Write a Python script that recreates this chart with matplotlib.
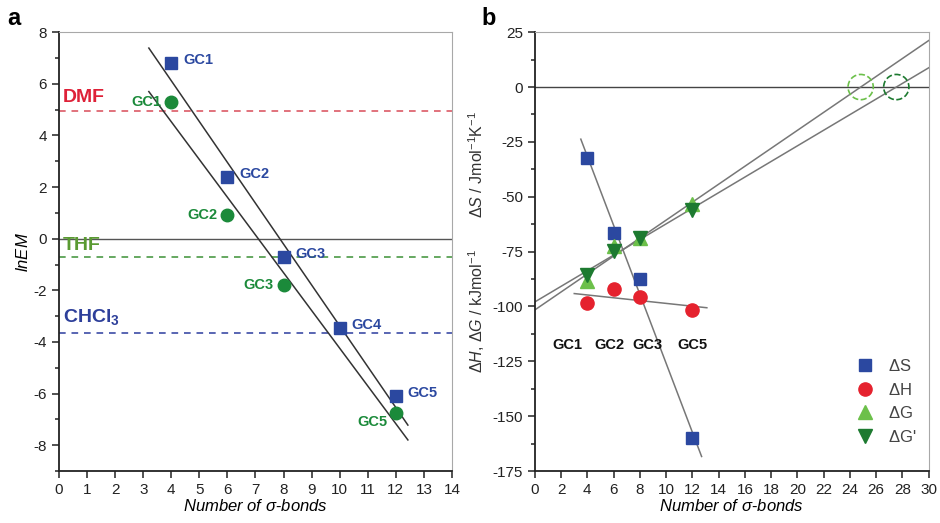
import numpy as np
import matplotlib
matplotlib.use("Agg")
import matplotlib.pyplot as plt
from matplotlib.ticker import MultipleLocator

plt.rcParams['font.family'] = ['Liberation Sans', 'DejaVu Sans']
plt.rcParams['mathtext.fontset'] = 'custom'
plt.rcParams['mathtext.it'] = 'Liberation Sans:italic'
plt.rcParams['mathtext.rm'] = 'Liberation Sans'
plt.rcParams['mathtext.bf'] = 'Liberation Sans:bold'
plt.rcParams['axes.unicode_minus'] = False

# panel a: ln EM vs number of sigma bonds
bonds_sq = [4, 6, 8, 10, 12]
lnem_sq = [6.8, 2.4, -0.7, -3.45, -6.1]
labels_sq = ['GC1', 'GC2', 'GC3', 'GC4', 'GC5']
bonds_ci = [4, 6, 8, 12]
lnem_ci = [5.3, 0.9, -1.8, -6.75]
labels_ci = ['GC1', 'GC2', 'GC3', 'GC5']
solvents = ['DMF', 'THF', r'$\mathbf{CHCl_3}$']
solvent_lnem = [4.95, -0.72, -3.66]

# panel b: thermodynamic parameters
bonds_b = [4, 6, 8, 12]
dS = [-32.5, -66.5, -87.5, -160]
dH = [-98.6, -92, -95.7, -101.7]
dG = [-88.5, -72.5, -69, -53.5]
dG2 = [-85.5, -74.5, -69, -56]
labels_b = ['GC1', 'GC2', 'GC3', 'GC5']
label_b_x = [2.5, 5.7, 8.6, 12.0]

blue = '#2b48a0'
green = '#1b8a3a'
red = '#e5222e'
lgreen = '#6cc04a'
dgreen = '#1d7a30'
solv_colors = ['#de2138', '#5a9a32', '#2d3f9a']
solv_line = ['#dc5a66', '#4c9a46', '#3c4ca6']

fig = plt.figure(figsize=(9.4, 5.23), dpi=100)
ax1 = fig.add_axes([0.0628, 0.0994, 0.418, 0.839])
ax2 = fig.add_axes([0.569, 0.0994, 0.419, 0.839])


def style(ax):
    for s in ['top', 'right']:
        ax.spines[s].set_color('#a8a8a8')
    for s in ['left', 'bottom']:
        ax.spines[s].set_linewidth(1.3)
        ax.spines[s].set_color('#222222')
    ax.tick_params(which='both', direction='out', top=False, right=False,
                   labelsize=11, colors='#222222', width=1.1)
    ax.tick_params(which='major', length=5)
    ax.tick_params(which='minor', length=3)


# ---- panel a
style(ax1)
ax1.set_xlim(0, 14)
ax1.set_ylim(-9, 8)
ax1.xaxis.set_major_locator(MultipleLocator(1))
ax1.yaxis.set_major_locator(MultipleLocator(2))
ax1.yaxis.set_minor_locator(MultipleLocator(1))
ax1.axhline(0, color='#555555', lw=1)

for y, c in zip(solvent_lnem, solv_line):
    ax1.axhline(y, color=c, lw=1.2, ls=(0, (4, 3.5)))
ax1.text(0.15, solvent_lnem[0] + 0.2, solvents[0], color=solv_colors[0],
         fontsize=14, fontweight='bold', va='bottom')
ax1.text(0.15, solvent_lnem[1] + 0.12, solvents[1], color=solv_colors[1],
         fontsize=14, fontweight='bold', va='bottom')
ax1.text(0.15, solvent_lnem[2] + 0.25, solvents[2], color=solv_colors[2],
         fontsize=14, fontweight='bold', va='bottom')

xf = np.array([3.2, 12.43])
p = np.polyfit(bonds_sq, lnem_sq, 1)
ax1.plot(xf, np.polyval(p, xf), color='#333333', lw=1.1)
p = np.polyfit(bonds_ci, lnem_ci, 1)
ax1.plot(xf, np.polyval(p, xf), color='#333333', lw=1.1)

ax1.plot(bonds_sq, lnem_sq, 's', color=blue, ms=8.5, zorder=5)
ax1.plot(bonds_ci, lnem_ci, 'o', color=green, ms=9, zorder=5)
for x, y, t in zip(bonds_sq, lnem_sq, labels_sq):
    ax1.text(x + 0.42, y + 0.12, t, color=blue, fontsize=10.5,
             fontweight='bold', va='center', ha='left')
for x, y, t in zip(bonds_ci[:3], lnem_ci[:3], labels_ci[:3]):
    ax1.text(x - 0.35, y, t, color=green, fontsize=10.5,
             fontweight='bold', va='center', ha='right')
ax1.text(bonds_ci[3] - 0.3, lnem_ci[3] - 0.35, labels_ci[3], color=green,
         fontsize=10.5, fontweight='bold', va='center', ha='right')

ax1.set_xlabel(r'$Number\ of\ \sigma$-$bonds$', fontsize=12, labelpad=1)
ax1.set_ylabel(r'$lnEM$', fontsize=12, labelpad=2)
fig.text(0.008, 0.965, 'a', fontsize=17, fontweight='bold', va='center')

# ---- panel b
style(ax2)
ax2.set_xlim(0, 30)
ax2.set_ylim(-175, 25)
ax2.xaxis.set_major_locator(MultipleLocator(2))
ax2.yaxis.set_major_locator(MultipleLocator(25))
ax2.yaxis.set_minor_locator(MultipleLocator(12.5))
ax2.axhline(0, color='#444444', lw=1)

p = np.polyfit(bonds_b, dS, 1)
xs = np.array([3.5, 12.7])
ax2.plot(xs, np.polyval(p, xs), color='#777777', lw=1.1)
p = np.polyfit(bonds_b, dH, 1)
xs = np.array([3.0, 13.1])
ax2.plot(xs, np.polyval(p, xs), color='#777777', lw=1.1)
xs = np.array([0, 30])
roots = []
for vals in (dG, dG2):
    p = np.polyfit(bonds_b, vals, 1)
    ax2.plot(xs, np.polyval(p, xs), color='#777777', lw=1.1)
    roots.append(-p[1] / p[0])
ax2.scatter([roots[0]], [0], s=330, facecolors='none', edgecolors=lgreen,
            linestyles='--', linewidths=1.2, zorder=4)
ax2.scatter([roots[1]], [0], s=330, facecolors='none', edgecolors=dgreen,
            linestyles='--', linewidths=1.2, zorder=4)

ax2.plot(bonds_b, dS, 's', color=blue, ms=8.5, zorder=5, label=r'$\Delta$S')
ax2.plot(bonds_b, dH, 'o', color=red, ms=9.5, zorder=5, label=r'$\Delta$H')
ax2.plot(bonds_b, dG, '^', color=lgreen, ms=10, zorder=5, label=r'$\Delta$G')
ax2.plot(bonds_b, dG2, 'v', color=dgreen, ms=10, zorder=6, label=r"$\Delta$G'")
for x, t in zip(label_b_x, labels_b):
    ax2.text(x, -117.5, t, color='#111111', fontsize=10.5, fontweight='bold',
             ha='center', va='center')

leg = ax2.legend(loc='lower right', bbox_to_anchor=(0.985, 0.045), frameon=False,
                 fontsize=12, handletextpad=0.6, handlelength=1.6,
                 labelspacing=0.45, borderaxespad=0)
for t in leg.get_texts():
    t.set_color('#444444')

ax2.set_xlabel(r'$Number\ of\ \sigma$-$bonds$', fontsize=12, labelpad=1)
fig.text(0.507, 0.685, r'$\Delta S$ / Jmol$^{-1}$K$^{-1}$', rotation=90,
         fontsize=11.5, ha='center', va='center', color='#333333')
fig.text(0.507, 0.405, r'$\Delta H$, $\Delta G$ / kJmol$^{-1}$', rotation=90,
         fontsize=11.5, ha='center', va='center', color='#333333')
fig.text(0.512, 0.965, 'b', fontsize=17, fontweight='bold', va='center')

fig.savefig('out.png', dpi=100)
